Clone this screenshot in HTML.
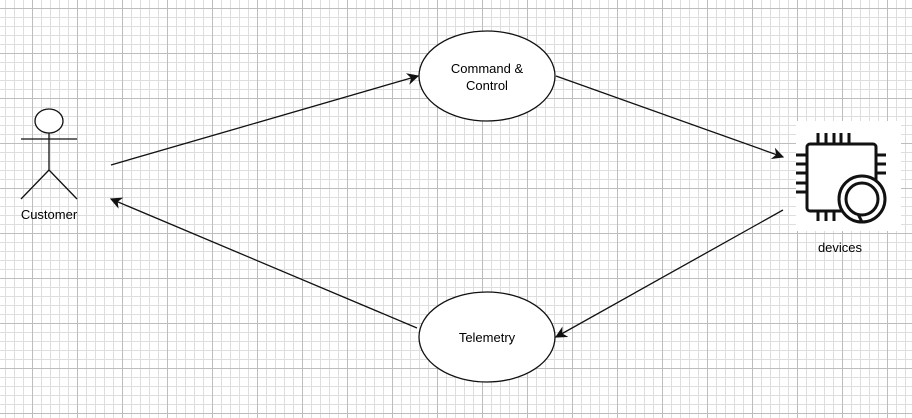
<!DOCTYPE html>
<html><head><style>
html,body{margin:0;padding:0;background:#fff;}
svg{display:block;font-family:"Liberation Sans",Arial,sans-serif;}
</style></head><body>
<svg width="912" height="418" viewBox="0 0 912 418" xmlns="http://www.w3.org/2000/svg">
<defs>
<pattern id="minor" x="5" y="8" width="9" height="9" patternUnits="userSpaceOnUse">
<path d="M0 0.5H9M0.5 0V9" stroke="#dedede" stroke-width="1" fill="none"/>
</pattern>
<pattern id="major" x="32" y="8" width="45" height="45" patternUnits="userSpaceOnUse">
<path d="M0 0.5H45M0.5 0V45" stroke="#bdbdbd" stroke-width="1" fill="none"/>
</pattern>
<marker id="ah" viewBox="0 0 10 10" refX="9" refY="5" markerWidth="12" markerHeight="12" markerUnits="userSpaceOnUse" orient="auto">
<path d="M0 0L10 5L0 10L3 5Z" fill="#111"/>
</marker>
</defs>
<rect width="912" height="418" fill="#fff"/>
<rect width="912" height="418" fill="url(#minor)"/>
<rect width="912" height="418" fill="url(#major)"/>

<g stroke="#111" stroke-width="1.3" fill="#fff">
<ellipse cx="49" cy="121" rx="14" ry="12"/>
<line x1="49" y1="133" x2="49" y2="170"/>
<line x1="21" y1="139" x2="77" y2="139"/>
<line x1="49" y1="170" x2="21" y2="199"/>
<line x1="49" y1="170" x2="77" y2="199"/>
</g>
<text x="49" y="219" font-size="13" text-anchor="middle" fill="#000">Customer</text>

<ellipse cx="487" cy="76" rx="68" ry="45" fill="#fff" stroke="#111" stroke-width="1.3"/>
<text x="487" y="73" font-size="13" text-anchor="middle" fill="#000">Command &amp;</text>
<text x="487" y="90" font-size="13" text-anchor="middle" fill="#000">Control</text>
<ellipse cx="487" cy="337" rx="68" ry="45" fill="#fff" stroke="#111" stroke-width="1.3"/>
<text x="487" y="342" font-size="13" text-anchor="middle" fill="#000">Telemetry</text>

<g stroke="#111" stroke-width="1.3" fill="none">
<line x1="111" y1="165" x2="418" y2="76" marker-end="url(#ah)"/>
<line x1="556" y1="76" x2="783" y2="157" marker-end="url(#ah)"/>
<line x1="783" y1="210" x2="556" y2="337" marker-end="url(#ah)"/>
<line x1="417" y1="328" x2="111" y2="199" marker-end="url(#ah)"/>
</g>

<rect x="796" y="121" width="105" height="110" fill="#fff"/>
<g stroke="#111" stroke-width="3" fill="none" stroke-linecap="butt">
<rect x="807" y="144" width="69" height="67" rx="3"/>
<path d="M818 133V144M826 133V144M834 133V144M841 133V144M849 133V144"/>
<path d="M796 155H807M796 164H807M796 173H807M796 183H807M796 192H807"/>
<path d="M876 155H886M876 164H886M876 173H886"/>
<path d="M818 211V221M826 211V221M834 211V221"/>
</g>
<circle cx="862" cy="199" r="23" fill="#fff" stroke="#111" stroke-width="3"/>
<circle cx="862" cy="199" r="16" fill="#fff" stroke="#111" stroke-width="3"/>
<path d="M858 214L862 222" stroke="#111" stroke-width="3"/>
<text x="840" y="252" font-size="13" text-anchor="middle" fill="#000">devices</text>
</svg>
</body></html>
